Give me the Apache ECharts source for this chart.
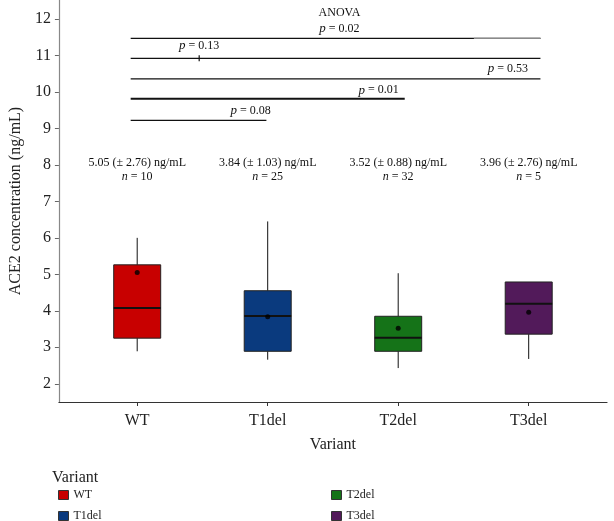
<!DOCTYPE html>
<html><head><meta charset="utf-8">
<script src="https://cdn.jsdelivr.net/npm/echarts@6/dist/echarts.min.js"></script>
<style>html,body{margin:0;padding:0;background:#fff}#c{width:614px;height:521px}</style>
</head><body><div id="c"></div>
<script>
// ---- data ----
const categories = ['WT', 'T1del', 'T2del', 'T3del'];
const colors = ['#c80000', '#0a3a7e', '#157318', '#521a5a'];
// [low whisker, Q1, median, Q3, high whisker]
const boxWT    = [2.89, 3.25, 4.08, 5.26, 6.00];
const boxT1del = [2.66, 2.89, 3.86, 4.55, 6.45];
const boxT2del = [2.43, 2.89, 3.26, 3.85, 5.03];
const boxT3del = [2.68, 3.36, 4.19, 4.79, 4.79];
const means = [5.05, 3.84, 3.52, 3.96];
const sds = ['2.76', '1.03', '0.88', '2.76'];
const ns = [10, 25, 32, 5];
const yTicks = [2, 3, 4, 5, 6, 7, 8, 9, 10, 11, 12];
// significance bars: [x start, x end, y]
const sigBars = [[0.95, 4.09, 11.47], [0.95, 4.09, 10.92], [0.95, 4.09, 10.36], [0.95, 3.05, 9.81], [0.95, 1.99, 9.22]];
const sigLabels = [[2.55, 12.16, 'ANOVA'], [2.55, 11.73, 'p = 0.02'], [1.475, 11.26, 'p = 0.13'], [3.84, 10.63, 'p = 0.53'], [2.85, 10.05, 'p = 0.01'], [1.87, 9.48, 'p = 0.08']];
const tickMark = [1.475, 10.92];
const greySeg = [3.58, 4.09, 11.47];
const annotY = 7.86;

const boxes = [boxWT, boxT1del, boxT2del, boxT3del];
const FONT = 'Liberation Serif';

const boxSeries = categories.map((name, i) => ({
  type: 'custom', name: name,
  itemStyle: { color: colors[i], borderColor: '#222', borderWidth: 1 },
  data: [[i + 1].concat(boxes[i])],
  z: 3,
  renderItem: function (params, api) {
    const x = api.value(0), lo = api.value(1), q1 = api.value(2), md = api.value(3), q3 = api.value(4), hi = api.value(5);
    const hw = 0.18;
    const a = api.coord([x - hw, q3]), b = api.coord([x + hw, q1]);
    const m1 = api.coord([x - hw, md]), m2 = api.coord([x + hw, md]);
    const t1 = api.coord([x, hi]), t0 = api.coord([x, q3]);
    const l1 = api.coord([x, lo]), l0 = api.coord([x, q1]);
    return { type: 'group', children: [
      { type: 'line', shape: { x1: t0[0], y1: t0[1], x2: t1[0], y2: t1[1] }, style: { stroke: '#111', lineWidth: 1 } },
      { type: 'line', shape: { x1: l0[0], y1: l0[1], x2: l1[0], y2: l1[1] }, style: { stroke: '#111', lineWidth: 1 } },
      { type: 'rect', shape: { x: a[0], y: a[1], width: b[0] - a[0], height: b[1] - a[1] }, style: { fill: colors[i], stroke: '#222', lineWidth: 1 } },
      { type: 'line', shape: { x1: m1[0], y1: m1[1], x2: m2[0], y2: m2[1] }, style: { stroke: '#111', lineWidth: 2 } }
    ] };
  }
}));

// legend placement: two columns of two rows
const legendPos = [[58, 489], [58, 510], [331, 489], [331, 510]];
const legends = categories.map((name, i) => ({
  data: [name], left: legendPos[i][0], top: legendPos[i][1], padding: 0,
  itemWidth: 10, itemHeight: 9, icon: 'rect',
  itemStyle: { borderColor: '#333', borderWidth: 1 },
  textStyle: { fontFamily: FONT, fontSize: 12, color: '#222' }
}));

const option = {
  animation: false,
  textStyle: { fontFamily: FONT },
  grid: { left: 51.5, right: 7, top: 0, bottom: 119, containLabel: false },
  title: { text: 'Variant', left: 47, top: 465, textStyle: { fontFamily: FONT, fontSize: 16, fontWeight: 'normal', color: '#222' } },
  legend: legends,
  xAxis: {
    type: 'value', min: 0.4, max: 4.6,
    name: 'Variant', nameLocation: 'middle', nameGap: 35,
    nameTextStyle: { fontFamily: FONT, fontSize: 16, color: '#222' },
    axisLine: { lineStyle: { color: '#333', width: 1.2 } },
    axisTick: { customValues: [1, 2, 3, 4], length: 4, lineStyle: { color: '#333' } },
    axisLabel: { customValues: [1, 2, 3, 4], margin: 11, fontFamily: FONT, fontSize: 16, color: '#222',
      formatter: v => categories[Math.round(v) - 1] || '' },
    splitLine: { show: false }
  },
  yAxis: {
    type: 'value', min: 1.5, max: 12.52,
    name: 'ACE2 concentration (ng/mL)', nameLocation: 'middle', nameGap: 33,
    nameTextStyle: { fontFamily: FONT, fontSize: 16, color: '#222' },
    axisLine: { show: true, lineStyle: { color: '#888', width: 1.2 } },
    axisTick: { show: true, customValues: yTicks, length: 4, lineStyle: { color: '#666' } },
    axisLabel: { customValues: yTicks, margin: 8, fontFamily: FONT, fontSize: 16, color: '#222' },
    splitLine: { show: false }
  },
  series: boxSeries.concat([
    { type: 'scatter', name: 'mean', data: means.map((m, i) => [i + 1, m]), symbolSize: 5, itemStyle: { color: '#000' }, z: 5, silent: true },
    { type: 'custom', name: 'sig', data: sigBars, silent: true, z: 4,
      renderItem: function (params, api) {
        const p1 = api.coord([api.value(0), api.value(2)]), p2 = api.coord([api.value(1), api.value(2)]);
        return { type: 'line', shape: { x1: p1[0], y1: p1[1], x2: p2[0], y2: p2[1] }, style: { stroke: '#111', lineWidth: params.dataIndex === 3 ? 2 : 1.2 } };
      } },
    { type: 'custom', name: 'grey', data: [greySeg], silent: true, z: 5,
      renderItem: function (params, api) {
        const p1 = api.coord([api.value(0), api.value(2)]), p2 = api.coord([api.value(1), api.value(2)]);
        return { type: 'line', shape: { x1: p1[0], y1: p1[1], x2: p2[0], y2: p2[1] }, style: { stroke: '#8a8a8a', lineWidth: 1.2 } };
      } },
    { type: 'custom', name: 'tick', data: [tickMark], silent: true, z: 5,
      renderItem: function (params, api) {
        const p = api.coord([api.value(0), api.value(1)]);
        return { type: 'line', shape: { x1: p[0], y1: p[1] - 3, x2: p[0], y2: p[1] + 3 }, style: { stroke: '#111', lineWidth: 1.2 } };
      } },
    { type: 'custom', name: 'siglab', data: sigLabels, silent: true, z: 6,
      renderItem: function (params, api) {
        const d = sigLabels[params.dataIndex];
        const p = api.coord([d[0], d[1]]);
        const txt = d[2].startsWith('p') ? '{i|p}' + d[2].slice(1) : d[2];
        return { type: 'text', x: p[0], y: p[1], style: { text: txt, fontFamily: FONT, fontSize: 12, fill: '#111', align: 'center', verticalAlign: 'middle',
          rich: { i: { fontStyle: 'italic', fontFamily: FONT, fontSize: 13, fill: '#111' } } } };
      } },
    { type: 'custom', name: 'annot', data: means.map((m, i) => [i + 1, annotY]), silent: true, z: 6,
      renderItem: function (params, api) {
        const i = params.dataIndex;
        const p = api.coord([api.value(0), api.value(1)]);
        const txt = means[i].toFixed(2) + ' (\u00b1 ' + sds[i] + ') ng/mL\n{i|n} = ' + ns[i];
        return { type: 'text', x: p[0], y: p[1], style: { text: txt, fontFamily: FONT, fontSize: 12, fill: '#111', align: 'center', verticalAlign: 'middle', lineHeight: 14,
          rich: { i: { fontStyle: 'italic', fontFamily: FONT, fontSize: 12, fill: '#111', lineHeight: 14 } } } };
      } }
  ])
};
echarts.init(document.getElementById('c'), null, { renderer: 'canvas' }).setOption(option);
</script></body></html>
